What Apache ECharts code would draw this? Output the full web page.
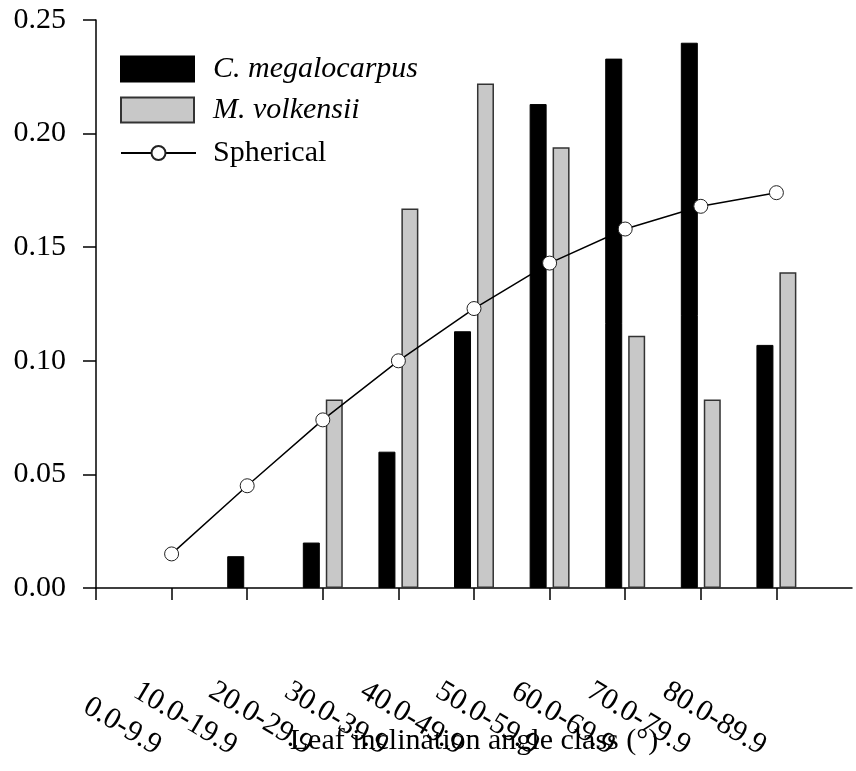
<!DOCTYPE html>
<html>
<head>
<meta charset="utf-8">
<script src="https://cdn.jsdelivr.net/npm/echarts@6/dist/echarts.min.js"></script>
<style>
  html, body { margin: 0; padding: 0; background: #fff; }
  #chart { width: 856px; height: 771px; }
</style>
</head>
<body>
<div id="chart"></div>
<script>
// leaf inclination angle classes
const categories = ['0.0-9.9', '10.0-19.9', '20.0-29.9', '30.0-39.9', '40.0-49.9',
  '50.0-59.9', '60.0-69.9', '70.0-79.9', '80.0-89.9'];
const megalocarpus = [null, 0.014, 0.020, 0.060, 0.113, 0.213, 0.233, 0.240, 0.107];
const volkensii = [null, null, 0.083, 0.167, 0.222, 0.194, 0.111, 0.083, 0.139];
const spherical = [0.015, 0.045, 0.074, 0.100, 0.123, 0.143, 0.158, 0.168, 0.174];

const font = 'Liberation Serif';

function pairs(arr) {
  return arr.map((v, i) => [i, v]);
}

const tickPos = [-1].concat(categories.map((c, i) => i));

let chart = echarts.init(document.getElementById('chart'));
chart.setOption({
  animation: false,
  grid: {
    left: 96,
    right: 4,
    top: 20,
    bottom: 183,
    containLabel: false,
    outerBoundsMode: 'none'
  },
  legend: [
    {
      data: ['C. megalocarpus'],
      left: 120, top: 54, padding: 0,
      itemWidth: 73, itemHeight: 25, icon: 'rect',
      selectedMode: false,
      textStyle: { fontFamily: font, fontSize: 30, fontStyle: 'italic', color: '#000', padding: [0, 0, 0, 14] }
    },
    {
      data: ['M. volkensii'],
      left: 120, top: 95, padding: 0,
      itemWidth: 73, itemHeight: 25, icon: 'rect',
      selectedMode: false,
      textStyle: { fontFamily: font, fontSize: 30, fontStyle: 'italic', color: '#000', padding: [0, 0, 0, 14] }
    },
    {
      data: ['Spherical'],
      left: 120, top: 138, padding: 0,
      itemWidth: 75, itemHeight: 17.5,
      selectedMode: false,
      textStyle: { fontFamily: font, fontSize: 30, color: '#000', padding: [0, 0, 0, 12] }
    }
  ],
  xAxis: {
    type: 'value',
    min: -1,
    max: 9,
    interval: 1,
    name: 'Leaf inclination angle class (\u00b0)',
    nameLocation: 'middle',
    nameGap: 138,
    nameMoveOverlap: false,
    nameTextStyle: { fontFamily: font, fontSize: 30, color: '#000' },
    splitLine: { show: false },
    axisLine: { onZero: false, lineStyle: { color: '#000', width: 1.5 } },
    axisTick: {
      length: 12,
      customValues: tickPos,
      lineStyle: { color: '#000', width: 1.5 }
    },
    axisLabel: {
      customValues: categories.map((c, i) => i),
      rotate: -31,
      align: 'right',
      verticalAlign: 'middle',
      margin: 168,
      padding: [0, 15, 0, 0],
      fontFamily: font,
      fontSize: 30,
      color: '#000',
      formatter: function (v) {
        return categories[v] !== undefined ? categories[v] : '';
      }
    }
  },
  yAxis: {
    type: 'value',
    min: 0,
    max: 0.25,
    interval: 0.05,
    splitLine: { show: false },
    axisLine: { show: true, onZero: false, lineStyle: { color: '#000', width: 1.5 } },
    axisTick: { show: true, length: 13, lineStyle: { color: '#000', width: 1.5 } },
    axisLabel: {
      margin: 30,
      fontFamily: font,
      fontSize: 30,
      color: '#000',
      formatter: function (v) { return v.toFixed(2); }
    }
  },
  series: [
    {
      name: 'C. megalocarpus',
      type: 'bar',
      barWidth: 17,
      barGap: '35%',
      itemStyle: { color: '#000', borderColor: '#000', borderWidth: 1 },
      data: pairs(megalocarpus)
    },
    {
      name: 'M. volkensii',
      type: 'bar',
      barWidth: 17,
      barGap: '35%',
      itemStyle: { color: '#c8c8c8', borderColor: '#333', borderWidth: 1.5 },
      data: pairs(volkensii)
    },
    {
      name: 'Spherical',
      type: 'line',
      symbol: 'circle',
      symbolSize: 14,
      lineStyle: { color: '#000', width: 1.5 },
      itemStyle: { color: '#fff', borderColor: '#222', borderWidth: 1 },
      data: pairs(spherical)
    }
  ]
});
</script>
</body>
</html>
